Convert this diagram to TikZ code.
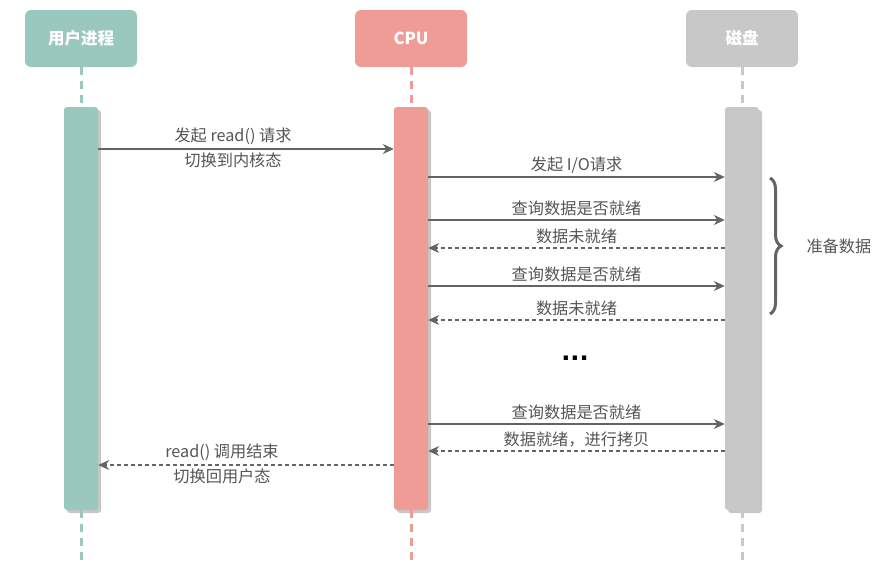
\documentclass[tikz,border=0pt]{standalone}
\usepackage{fontspec}
\setmainfont{Noto Sans CJK SC}
\newfontfamily\dotsfont{DejaVu Sans}
\usetikzlibrary{arrows.meta,shadows,decorations.pathreplacing}
\definecolor{userteal}{RGB}{154,200,191}
\definecolor{cpupink}{RGB}{240,156,150}
\definecolor{diskgray}{RGB}{200,200,200}
\definecolor{msggray}{RGB}{100,100,100}
\definecolor{labelgray}{RGB}{85,85,85}

\begin{document}
\begin{tikzpicture}[x=1pt,y=-1pt]

%
% Styles
%
\tikzstyle{actor} = [rounded corners=6pt,minimum width=112pt,minimum height=57pt,text=white,font=\fontsize{16.5}{19}\selectfont\bfseries]
\tikzstyle{bar}   = [rounded corners=3pt,minimum width=34pt,minimum height=403pt,drop shadow={shadow xshift=3pt,shadow yshift=-3pt,fill=black!22,opacity=1}]
\tikzstyle{life}  = [line width=3pt,dash pattern=on 8pt off 6pt]
\tikzstyle{msg}   = [-{Stealth[length=11pt,width=10pt]},draw=msggray,line width=1.2pt]
\tikzstyle{reply} = [msg,dash pattern=on 4pt off 3pt]
\tikzstyle{lbl}   = [text=labelgray,font=\fontsize{16.2}{19}\selectfont]

\useasboundingbox (0,0) rectangle (895,581);

\node[actor,fill=userteal] (user) at ( 81,38.5) {用户进程};
\node[actor,fill=cpupink]  (cpu)  at (411,38.5) {CPU};
\node[actor,fill=diskgray] (disk) at (742,38.5) {磁盘};

\node[bar,fill=userteal] (userbar) at ( 81,308.5) {};
\node[bar,fill=cpupink]  (cpubar)  at (411,308.5) {};
\node[bar,fill=diskgray] (diskbar) at (742,308.5) {};

\coordinate (userend) at ( 81,560);
\coordinate (cpuend)  at (411,560);
\coordinate (diskend) at (742,560);

\draw[life,userteal] (user) -- (userbar);
\draw[life,cpupink]  (cpu)  -- (cpubar);
\draw[life,diskgray] (disk) -- (diskbar);
\draw[life,userteal] (userbar) -- (userend);
\draw[life,cpupink]  (cpubar)  -- (cpuend);
\draw[life,diskgray] (diskbar) -- (diskend);

\draw[msg] (userbar.east |- 0,149) -- (cpubar.west |- 0,149)
  node[lbl,midway,above=0pt,xshift=-13pt] {发起 read() 请求}
  node[lbl,midway,below=0pt,xshift=-13pt] {切换到内核态};
\draw[msg] (cpubar.east |- 0,177) -- (diskbar.west |- 0,177)
  node[lbl,midway,above=0pt] {发起 I/O请求};
\draw[msg] (cpubar.east |- 0,220) -- (diskbar.west |- 0,220)
  node[lbl,midway,above=0pt] {查询数据是否就绪};
\draw[reply] (diskbar.west |- 0,248) -- (cpubar.east |- 0,248)
  node[lbl,midway,above=0pt] {数据未就绪};
\draw[msg] (cpubar.east |- 0,286) -- (diskbar.west |- 0,286)
  node[lbl,midway,above=0pt] {查询数据是否就绪};
\draw[reply] (diskbar.west |- 0,320) -- (cpubar.east |- 0,320)
  node[lbl,midway,above=0pt] {数据未就绪};

\node[font=\dotsfont\fontsize{24}{26}\selectfont\bfseries] (dots) at (575,358) {...};

\draw[msg] (cpubar.east |- 0,424) -- (diskbar.west |- 0,424)
  node[lbl,midway,above=0pt] {查询数据是否就绪};
\draw[reply] (diskbar.west |- 0,451) -- (cpubar.east |- 0,451)
  node[lbl,midway,above=0pt] {数据就绪，进行拷贝};
\draw[reply] (cpubar.west |- 0,465) -- (userbar.east |- 0,465)
  node[lbl,midway,above=0pt,xshift=-24pt] {read() 调用结束}
  node[lbl,midway,below=0pt,xshift=-24pt] {切换回用户态};

% brace
\coordinate (bracetop) at (770,178);
\coordinate (bracebot) at (770,314);
\draw[decorate,decoration={brace,amplitude=11pt},line width=3pt,msggray] (bracetop) -- (bracebot);
\node[lbl,anchor=west] (prep) at (803,246) {准备数据};

\end{tikzpicture}
\end{document}
